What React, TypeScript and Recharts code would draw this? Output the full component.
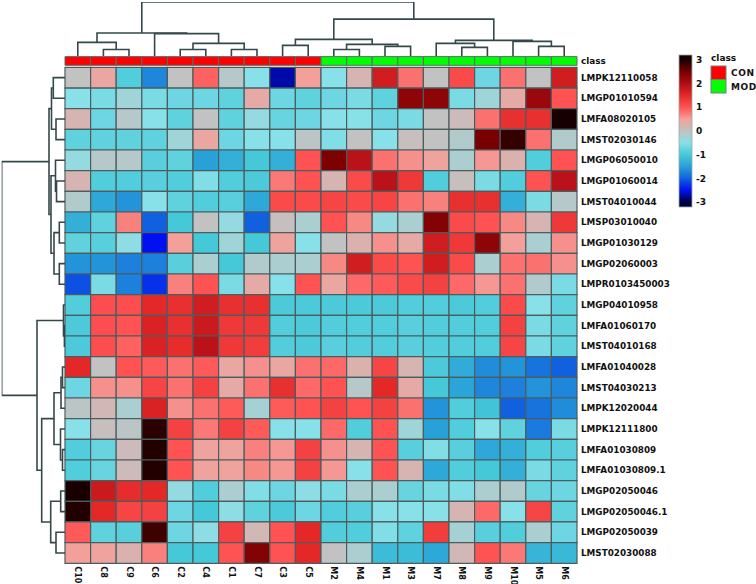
import React from "react";
import { ScatterChart, Scatter, XAxis, YAxis, ReferenceArea } from "recharts";

const columns = ["C10", "C8", "C9", "C6", "C2", "C4", "C1", "C7", "C3", "C5", "M2", "M4", "M1", "M3", "M7", "M8", "M9", "M10", "M5", "M6"];
const columnClass = ["CON", "CON", "CON", "CON", "CON", "CON", "CON", "CON", "CON", "CON", "MOD", "MOD", "MOD", "MOD", "MOD", "MOD", "MOD", "MOD", "MOD", "MOD"];

const rows = [
  "LMPK12110058", "LMGP01010594", "LMFA08020105", "LMST02030146", "LMGP06050010", "LMGP01060014",
  "LMST04010044", "LMSP03010040", "LMGP01030129", "LMGP02060003", "LMPR0103450003", "LMGP04010958",
  "LMFA01060170", "LMST04010168", "LMFA01040028", "LMST04030213", "LMPK12020044", "LMPK12111800",
  "LMFA01030809", "LMFA01030809.1", "LMGP02050046", "LMGP02050046.1", "LMGP02050039", "LMST02030088",
];

// z-scores, one array per row, in column order
const values = [
  [0, 0.4, -0.9, -1.7, 0, 0.9, -0.1, -0.5, -2.7, 0.5, -0.5, 0.2, 1.7, 0.8, 0, 1.1, -0.7, 0.8, 0, 1.7],
  [-0.5, -0.6, -0.3, -0.6, -0.7, -0.7, -0.8, 0.35, -0.7, -0.8, -0.7, -0.6, -0.8, 2.3, 2.3, -0.6, -0.3, 0.35, 2.2, 1.0],
  [0.2, -0.7, -0.1, -0.5, -0.8, 0, -0.8, -0.4, -0.75, -0.7, -0.5, -0.5, -0.7, -0.6, 0, 0.1, 0.8, 1.4, 1.4, 3.0],
  [-0.8, -0.8, -0.8, -0.8, -0.3, 0.4, -0.7, -0.5, -0.5, -0.05, -0.55, 0, -0.5, 0.05, 0, -0.15, 2.5, 2.85, 0.8, -0.15],
  [-0.4, -0.1, -0.1, -0.85, -0.8, -1.5, -1.3, -1.0, -1.3, 1.0, 2.45, 1.9, 0.8, 0.6, 0.45, -0.2, 0.55, 0.25, -0.9, 1.0],
  [0.2, -0.9, -0.9, -0.85, -0.9, -0.55, -0.9, -0.95, 0.75, 1.0, 0.2, 1.1, 1.9, 1.3, -0.9, 0.05, -0.6, -0.9, 1.0, 1.9],
  [-0.15, -1.4, -1.6, -0.5, -0.8, -0.9, -0.85, -1.4, 1.1, 1.1, 1.15, 1.1, 1.15, 0.8, 0.7, 1.4, 1.4, -1.3, -0.6, -0.1],
  [-1.3, -0.8, 0.7, -2.0, -1.0, 0, -0.4, -2.0, 0.05, -0.2, 1.0, 0.65, -0.4, -0.2, 2.4, 1.1, 1.0, 0.65, 0.2, 1.3],
  [-0.8, -0.85, -0.45, -2.5, 0.5, -1.0, -0.3, -1.0, 0.45, -0.5, 0, 0.25, 0.6, 0.35, 1.7, 1.3, 2.3, 0.5, -0.2, 0.6],
  [-1.6, -1.6, -1.75, -1.75, -0.85, -0.2, -1.0, -0.15, -0.2, -0.2, 0.65, 1.7, 1.1, 1.0, 1.7, 1.1, -0.2, 0.8, 0.8, 0.6],
  [-2.1, -0.6, -1.75, -2.3, 0.7, 1.0, -0.6, 0.35, -0.5, 1.0, 0.4, 0.85, 0.95, 1.1, 1.2, 0.85, 0.55, 0.8, -0.15, -0.6],
  [-0.9, 1.05, 1.05, 1.5, 1.4, 1.7, 1.4, 1.4, -0.95, -0.95, -0.95, -0.95, -0.95, -0.9, -0.9, -0.95, -0.9, 1.1, -0.5, -0.8],
  [-0.95, 1.05, 1.0, 1.6, 1.4, 1.75, 1.3, 1.3, -0.9, -0.95, -0.9, -0.9, -0.9, -0.85, -0.9, -0.9, -0.9, 1.2, -0.6, -0.8],
  [-0.95, 1.05, 0.9, 1.6, 1.45, 1.9, 1.3, 1.25, -0.9, -0.95, -0.85, -0.9, -0.9, -0.85, -0.9, -0.9, -0.9, 1.15, -0.6, -0.8],
  [1.5, 0, 1.0, 0.95, 0.8, 0.95, 0.4, 0.6, 0.4, 0.8, 0.85, 0.25, 1.15, 0.2, -0.95, -1.35, -1.65, -1.6, -1.85, -2.0],
  [-0.7, 0.6, 0.6, 1.15, 0.8, 1.2, 0.35, 0.8, 1.4, 0.85, 1.0, -0.1, 1.5, 0.35, -1.0, -1.45, -1.7, -1.75, -1.6, -1.7],
  [-0.05, 0.15, -0.2, 1.6, 0.6, 0.8, 0.95, -0.25, 0.95, 1.0, 1.2, 1.0, 1.2, 0.8, -1.6, -0.9, -1.05, -2.0, -1.85, -1.65],
  [-0.5, 0.05, -0.05, 2.9, 1.2, 0.75, 1.2, 0.95, -0.5, -0.5, 0.85, -0.9, 1.0, -0.3, -1.5, -0.9, -0.5, -0.8, -1.8, -0.6],
  [-0.9, -0.75, 0.1, 2.95, 1.0, 0.45, 0.45, 0.7, 0.55, 1.2, 0.6, 0.2, 1.0, -0.85, -0.55, -0.85, -1.4, -1.3, -0.9, -0.85],
  [-0.9, -0.75, 0.1, 2.95, 1.0, 0.45, 0.45, 0.65, 0.55, 1.2, 0.55, -0.5, 1.0, 0.2, -1.4, -0.9, -1.0, -1.3, -0.6, -0.8],
  [3.0, 1.75, 1.45, 1.5, -0.4, -0.9, -0.2, -0.55, -0.7, -0.45, -0.6, -0.2, -0.2, -0.75, -0.6, -0.55, -0.2, -0.15, -0.75, -0.7],
  [2.95, 1.5, 1.15, 1.2, -0.7, -1.0, -0.45, -0.8, -0.95, -0.7, -0.9, -0.85, -0.5, -0.5, -0.5, 0.2, 0.85, -0.5, 1.15, -0.8],
  [0.95, -0.8, -0.85, 2.8, -0.7, -0.45, 1.2, 0.15, 1.0, 1.5, -0.9, -0.9, -0.55, -0.8, 1.25, -0.25, -0.85, -0.9, -0.2, -0.7],
  [0.5, 0.45, 0.25, 0.7, -1.0, -1.0, 1.0, 2.4, 1.0, 1.5, 0, -0.2, -1.15, -1.15, -1.4, 0.15, 1.0, 0.75, -1.25, -1.2],
];

const colorStops: [number, string][] = [
  [-3, "#00003c"], [-2.5, "#0010f0"], [-2, "#1060e0"], [-1.5, "#28a0d8"], [-1, "#45c8d8"],
  [-0.5, "#88e0e8"], [0, "#c2c2c2"], [0.5, "#f4a09a"], [1, "#ff5252"], [1.5, "#e42828"],
  [2, "#b00c14"], [2.5, "#780000"], [3, "#180000"],
];
const legendTicks = [3, 2, 1, 0, -1, -2, -3];
const classColors: Record<string, string> = { CON: "#ff0000", MOD: "#00ff00" };

// hierarchical merges: [id, left, right, height]; numbers are leaf indices
type Ref = number | string;
const colMerges: [string, Ref, Ref, number][] = [
  ["c89", 1, 2, 6.5], ["cA", 0, "c89", 13.5], ["c24", 4, 5, 6.5], ["c17", 6, 7, 6.5],
  ["cB1", "c24", "c17", 12.5], ["cB", 3, "cB1", 22.2], ["C", "cA", "cB", 22.8],
  ["c35", 8, 9, 10.5], ["m24", 10, 11, 6.5], ["m13", 12, 13, 9.5], ["mA", "m24", "m13", 11.5],
  ["cmA", "c35", "mA", 16.5], ["m89", 15, 16, 8.5], ["mB1", 14, "m89", 12.5], ["m56", 18, 19, 9.5],
  ["mB2", 17, "m56", 14.5], ["mB", "mB1", "mB2", 15.5], ["M", "cmA", "mB", 36.5], ["root", "C", "M", 53.5],
];
const rowMerges: [string, Ref, Ref, number][] = [
  ["r01", 0, 1, 11.7], ["r23", 2, 3, 9], ["rA", "r01", "r23", 13.5], ["r56", 5, 6, 8.5],
  ["rB1", 4, "r56", 9.5], ["r78", 7, 8, 5.7], ["r910", 9, 10, 5.7], ["rB2", "r78", "r910", 11],
  ["rB", "rB1", "rB2", 14], ["T", "rA", "rB", 16], ["r1213", 12, 13, 0.6], ["rC1", 11, "r1213", 1.5],
  ["r1415", 14, 15, 2.5], ["r1416", "r1415", 16, 4], ["r1819", 18, 19, 2.5], ["r1719", 17, "r1819", 4.5],
  ["rC2a", "r1416", "r1719", 11], ["r2021", 20, 21, 4.3], ["r2223", 22, 23, 9], ["rC2b", "r2021", "r2223", 14.3],
  ["rC2", "rC2a", "rC2b", 23.3], ["B", "rC1", "rC2", 28], ["root", "T", "B", 63.3],
];

const hexToRgb = (h: string) => [1, 3, 5].map((i) => parseInt(h.slice(i, i + 2), 16));
const colorFor = (v: number) => {
  const c = Math.max(-3, Math.min(3, v));
  for (let i = 0; i < colorStops.length - 1; i++) {
    const [v0, c0] = colorStops[i];
    const [v1, c1] = colorStops[i + 1];
    if (c >= v0 && c <= v1) {
      const t = (c - v0) / (v1 - v0);
      const a = hexToRgb(c0), b = hexToRgb(c1);
      return `rgb(${a.map((x, k) => Math.round(x + (b[k] - x) * t)).join(",")})`;
    }
  }
  return colorStops[colorStops.length - 1][1];
};

const layoutTree = (merges: [string, Ref, Ref, number][]) => {
  const pos: Record<string, number> = {};
  const ht: Record<string, number> = {};
  const p = (r: Ref) => (typeof r === "number" ? r + 0.5 : pos[r]);
  const hh = (r: Ref) => (typeof r === "number" ? 0 : ht[r]);
  return merges.map(([id, a, b, h]) => {
    const pa = p(a), pb = p(b);
    const seg = [
      { p: pa, h: hh(a) }, { p: pa, h }, { p: pb, h }, { p: pb, h: hh(b) },
    ];
    pos[id] = (pa + pb) / 2;
    ht[id] = h;
    return seg;
  });
};

const LINE = "#34484a";
const FONT = "DejaVu Sans";
const cellPoints = values.flatMap((r, ri) => r.map((v, ci) => ({ x: ci + 0.5, y: ri + 0.5, v })));
const colTicks = columns.map((_, i) => i + 0.5);
const rowTicks = [-0.31, ...rows.map((_, i) => i + 0.5)];

const ColTick = (props: any) => {
  const { x, y, payload } = props;
  return (
    <text transform={`translate(${x},${y}) rotate(90)`} textAnchor="start" dominantBaseline="central"
      fontFamily={FONT} fontWeight="bold" fontSize={8} fill="#111">
      {columns[Math.floor(payload.value)]}
    </text>
  );
};

const RowTick = (props: any) => {
  const { x, y, payload } = props;
  const label = payload.value < 0 ? "class" : rows[Math.floor(payload.value)];
  return (
    <text x={x} y={y} textAnchor="start" dominantBaseline="central"
      fontFamily={FONT} fontWeight="bold" fontSize={8.8} fill="#111">
      {label}
    </text>
  );
};

const Dendrogram = ({ merges, horizontal }: { merges: [string, Ref, Ref, number][]; horizontal: boolean }) => {
  const segs = layoutTree(merges);
  const maxH = merges[merges.length - 1][3];
  if (horizontal) {
    return (
      <ScatterChart width={756} height={57} margin={{ top: 2, left: 65, right: 179, bottom: 1 }}>
        <XAxis type="number" dataKey="x" domain={[0, columns.length]} hide allowDataOverflow />
        <YAxis type="number" dataKey="y" domain={[0, maxH]} hide allowDataOverflow />
        {segs.map((s, i) => (
          <Scatter key={i} data={s.map((d) => ({ x: d.p, y: d.h }))} line={{ stroke: LINE, strokeWidth: 1.6 }}
            lineType="joint" shape={() => <g />} isAnimationActive={false} />
        ))}
      </ScatterChart>
    );
  }
  return (
    <ScatterChart width={66} height={584} margin={{ top: 67.3, left: 1.7, right: 1, bottom: 20.7 }}>
      <XAxis type="number" dataKey="x" domain={[0, maxH]} reversed hide allowDataOverflow />
      <YAxis type="number" dataKey="y" domain={[0, rows.length]} reversed hide allowDataOverflow />
      {segs.map((s, i) => (
        <Scatter key={i} data={s.map((d) => ({ x: d.h, y: d.p }))} line={{ stroke: LINE, strokeWidth: 1.6 }}
          lineType="joint" shape={() => <g />} isAnimationActive={false} />
      ))}
    </ScatterChart>
  );
};

const Legends = () => {
  const top = 55, bottom = 207, vmax = 3.2;
  const yOf = (v: number) => top + ((vmax - v) / (2 * vmax)) * (bottom - top);
  const gradStops = [...colorStops].reverse();
  return (
    <svg width={756} height={584} style={{ position: "absolute", left: 0, top: 0, pointerEvents: "none" }}>
      <defs>
        <linearGradient id="cbar" x1="0" y1="0" x2="0" y2="1">
          {gradStops.map(([v, c]) => (
            <stop key={v} offset={`${((vmax - v) / (2 * vmax)) * 100}%`} stopColor={c} />
          ))}
        </linearGradient>
      </defs>
      <rect x={679} y={top} width={13} height={bottom - top} fill="url(#cbar)" stroke="#9aa" strokeWidth={0.8} />
      {legendTicks.map((t) => (
        <text key={t} x={696} y={yOf(t)} dominantBaseline="central" fontFamily={FONT} fontWeight="bold" fontSize={9} fill="#111">
          {t}
        </text>
      ))}
      <text x={711} y={61} fontFamily={FONT} fontWeight="bold" fontSize={9} fill="#111">class</text>
      {["CON", "MOD"].map((k, i) => (
        <g key={k}>
          <rect x={711} y={66 + i * 13.5} width={15} height={13.5} fill={classColors[k]} stroke="#708080" strokeWidth={1} />
          <text x={731} y={73 + i * 13.5} dominantBaseline="central" fontFamily={FONT} fontWeight="bold" fontSize={9}
            letterSpacing={0.6} fill="#111">{k}</text>
        </g>
      ))}
    </svg>
  );
};

export default function App() {
  return (
    <div style={{ position: "relative", width: 756, height: 584, background: "#fff", overflow: "hidden" }}>
      <style>{"body{margin:0}"}</style>
      <div style={{ position: "absolute", left: 0, top: 0 }}>
        <ScatterChart width={756} height={584} margin={{ top: 56, right: 0, bottom: 0, left: 65 }}>
          <XAxis type="number" dataKey="x" domain={[0, columns.length]} ticks={colTicks} interval={0} height={20.7}
            axisLine={false} tickLine={false} tickSize={0} tickMargin={3} tick={<ColTick />} allowDataOverflow />
          <YAxis type="number" dataKey="y" orientation="right" domain={[-0.55, rows.length]} reversed ticks={rowTicks}
            interval={0} width={179} axisLine={false} tickLine={false} tickSize={0} tickMargin={4} tick={<RowTick />}
            allowDataOverflow />
          {columns.map((c, ci) => (
            <ReferenceArea key={`cls-${c}`} x1={ci} x2={ci + 1} y1={-0.52} y2={-0.1} fill={classColors[columnClass[ci]]}
              fillOpacity={1} stroke="#5a6a6a" strokeWidth={1} />
          ))}
          {cellPoints.map((d) => (
            <ReferenceArea key={`${d.x}-${d.y}`} x1={d.x - 0.5} x2={d.x + 0.5} y1={d.y - 0.5} y2={d.y + 0.5}
              fill={colorFor(d.v)} fillOpacity={1} stroke="#4b5d5e" strokeWidth={1.2} />
          ))}
          <Scatter data={cellPoints} shape={() => <g />} isAnimationActive={false} />
        </ScatterChart>
      </div>
      <div style={{ position: "absolute", left: 0, top: 0 }}>
        <Dendrogram merges={colMerges} horizontal />
      </div>
      <div style={{ position: "absolute", left: 0, top: 0 }}>
        <Dendrogram merges={rowMerges} horizontal={false} />
      </div>
      <Legends />
    </div>
  );
}
